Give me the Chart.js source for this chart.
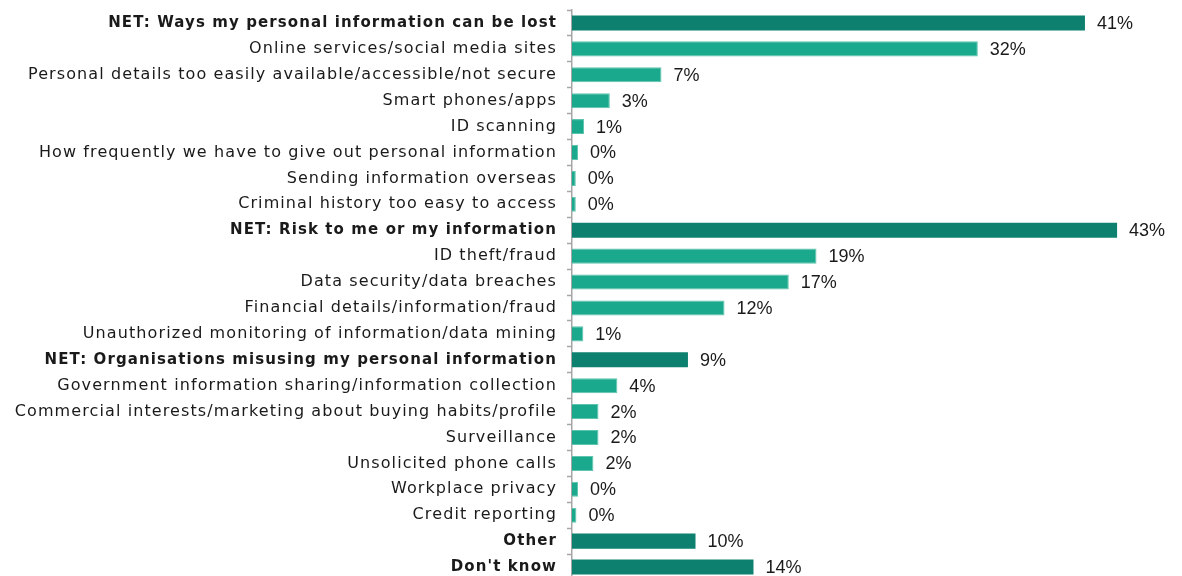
<!DOCTYPE html>
<html>
<head>
<meta charset="utf-8">
<script src="https://cdn.jsdelivr.net/npm/chart.js@4/dist/chart.umd.min.js"></script>
<style>
  html, body { margin: 0; padding: 0; background: #fff; overflow: hidden; }
  .chart-wrapper { position: relative; width: 1182px; height: 582px; }
</style>
</head>
<body>
<div class="chart-wrapper"><canvas id="chart"></canvas></div>
<script>
// categories, top to bottom
const categories = [
  'NET: Ways my personal information can be lost',
  'Online services/social media sites',
  'Personal details too easily available/accessible/not secure',
  'Smart phones/apps',
  'ID scanning',
  'How frequently we have to give out personal information',
  'Sending information overseas',
  'Criminal history too easy to access',
  'NET: Risk to me or my information',
  'ID theft/fraud',
  'Data security/data breaches',
  'Financial details/information/fraud',
  'Unauthorized monitoring of information/data mining',
  'NET: Organisations misusing my personal information',
  'Government information sharing/information collection',
  'Commercial interests/marketing about buying habits/profile',
  'Surveillance',
  'Unsolicited phone calls',
  'Workplace privacy',
  'Credit reporting',
  'Other',
  "Don't know"
];

// percentages
const values = [
  40.7, 32.2, 7.1, 3.0, 0.95, 0.48, 0.3, 0.3,
  43.25, 19.4, 17.2, 12.1, 0.9,
  9.2, 3.6, 2.1, 2.1, 1.7, 0.48, 0.35,
  9.8, 14.4
];

// which rows are headline (NET / Other / Don't know) rows
const isNet = [
  true, false, false, false, false, false, false, false,
  true, false, false, false, false,
  true, false, false, false, false, false, false,
  true, true
];

const darkTeal = '#0e806f';
const lightTeal = '#1aa98c';

// wider spacing for the category labels
const labelSpacing = {
  id: 'labelSpacing',
  beforeDraw(chart) { chart.ctx.letterSpacing = '1.1px'; }
};

// draws the "41%" style labels at the end of each bar
const valueLabels = {
  id: 'valueLabels',
  afterDatasetsDraw(chart) {
    const ctx = chart.ctx;
    const meta = chart.getDatasetMeta(0);
    ctx.save();
    ctx.letterSpacing = '0px';
    ctx.font = '18px "Liberation Sans", Arial, sans-serif';
    ctx.fillStyle = '#1a1a1a';
    ctx.textAlign = 'left';
    ctx.textBaseline = 'middle';
    meta.data.forEach((bar, i) => {
      ctx.fillText(Math.round(values[i]) + '%', bar.x + 12, bar.y + 1);
    });
    ctx.restore();
  }
};

new Chart(document.getElementById('chart'), {
  type: 'bar',
  data: {
    labels: categories,
    datasets: [{
      data: values,
      backgroundColor: isNet.map(n => n ? darkTeal : lightTeal),
      borderColor: isNet.map(n => n ? darkTeal : '#5fc4ae'),
      borderWidth: isNet.map(n => n ? 0 : 1),
      borderSkipped: 'left',
      barPercentage: 0.58,
      categoryPercentage: 1.0
    }]
  },
  options: {
    indexAxis: 'y',
    responsive: true,
    maintainAspectRatio: false,
    animation: false,
    layout: { padding: { top: 10, bottom: 2, left: 0, right: 0 } },
    plugins: {
      legend: { display: false },
      tooltip: { enabled: false }
    },
    scales: {
      x: {
        display: false,
        min: 0,
        max: 48.4
      },
      y: {
        z: 1,
        afterFit(scale) {
          scale.width = 572;
          scale.paddingTop = 0;
          scale.paddingBottom = 0;
        },
        grid: {
          drawOnChartArea: false,
          offset: true,
          tickLength: 5,
          tickColor: '#a6a6a6',
          tickWidth: 1.5
        },
        border: { display: true, color: '#a6a6a6', width: 1.5 },
        ticks: {
          padding: 10,
          color: '#1a1a1a',
          font: (ctx) => ({
            family: '"DejaVu Sans", sans-serif',
            size: isNet[ctx.index] ? 15 : 16,
            weight: isNet[ctx.index] ? 'bold' : 'normal'
          })
        }
      }
    }
  },
  plugins: [labelSpacing, valueLabels]
});
</script>
</body>
</html>
